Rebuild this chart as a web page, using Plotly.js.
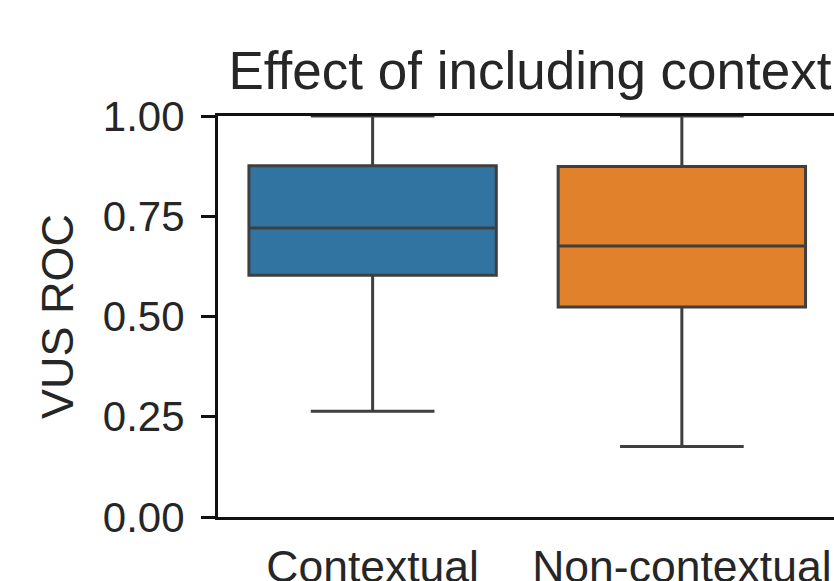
<!DOCTYPE html>
<html>
<head>
<meta charset="utf-8">
<script src="https://cdn.plot.ly/plotly-3.0.1.min.js"></script>
<style>html,body{margin:0;padding:0;background:#fff;}#chart{width:834px;height:581px;}</style>
</head>
<body>
<div id="chart"></div>
<script>
const categories = ["Contextual", "Non-contextual"];
const q1 = [0.603, 0.524];
const medians = [0.721, 0.676];
const q3 = [0.876, 0.874];
const lowerWhisker = [0.264, 0.176];
const upperWhisker = [1.0, 1.0];
const colors = ["#3274a1", "#e1812c"];

const traces = categories.map((c, i) => ({
  type: "box",
  name: c,
  x: [c],
  q1: [q1[i]],
  median: [medians[i]],
  q3: [q3[i]],
  lowerfence: [lowerWhisker[i]],
  upperfence: [upperWhisker[i]],
  width: 0.8,
  whiskerwidth: 0.5,
  fillcolor: colors[i],
  line: {color: "#3f3f3f", width: 3},
  boxpoints: false,
  hoverinfo: "skip",
  showlegend: false
}));

const font = {family: "Liberation Sans, Arial, sans-serif", color: "#262626"};

const layout = {
  width: 834,
  height: 581,
  margin: {l: 218, r: 0, t: 116, b: 64, pad: 0},
  paper_bgcolor: "#fff",
  plot_bgcolor: "#fff",
  showlegend: false,
  boxmode: "overlay",
  font: Object.assign({size: 42}, font),
  title: {
    text: "Effect of including context",
    font: Object.assign({size: 53}, font),
    xref: "container", x: 530 / 834, xanchor: "center",
    yref: "container", y: 1 - 70 / 581, yanchor: "middle"
  },
  xaxis: {
    type: "category",
    categoryorder: "array",
    categoryarray: categories,
    range: [-0.5, 1.492],
    showgrid: false,
    zeroline: false,
    showline: true,
    linecolor: "#111",
    linewidth: 3,
    mirror: true,
    ticks: "",
    tickfont: Object.assign({size: 44.5}, font),
    ticklabelstandoff: 9
  },
  yaxis: {
    range: [0, 1],
    tickvals: [0, 0.25, 0.5, 0.75, 1.0],
    ticktext: ["0.00", "0.25", "0.50", "0.75", "1.00"],
    showgrid: false,
    zeroline: false,
    showline: true,
    linecolor: "#111",
    linewidth: 3,
    ticks: "outside",
    ticklen: 14,
    tickwidth: 3,
    tickcolor: "#111",
    tickfont: Object.assign({size: 42}, font),
    ticklabelstandoff: 8,
    title: {text: "VUS ROC", font: Object.assign({size: 45}, font), standoff: 16}
  }
};

Plotly.newPlot("chart", traces, layout, {staticPlot: true, displayModeBar: false});
</script>
</body>
</html>
